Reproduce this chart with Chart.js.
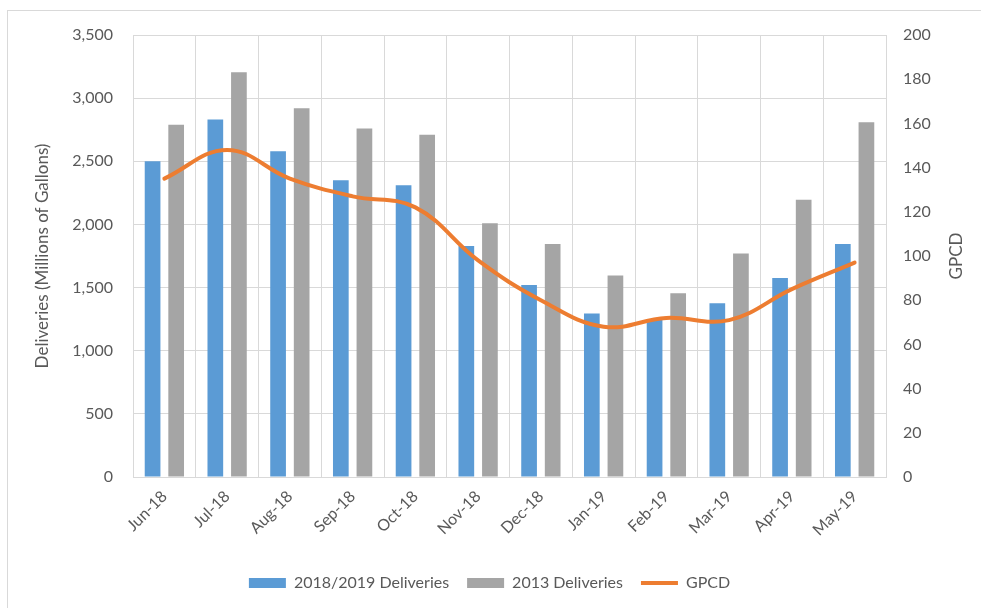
<!DOCTYPE html>
<html>
<head>
<meta charset="utf-8">
<script src="https://cdn.jsdelivr.net/npm/chart.js@4"></script>
<style>
  html, body { margin: 0; padding: 0; background: #fff; }
  #wrap { position: relative; width: 981px; height: 608px; }
  #frame { position: absolute; left: 7px; top: 10px; width: 990px; height: 620px;
           border-left: 1px solid #D9D9D9; border-top: 1px solid #D9D9D9; }
  canvas { position: absolute; left: 0; top: 0; }
</style>
</head>
<body>
<div id="wrap">
  <div id="frame"></div>
  <canvas id="chart" width="981" height="608"></canvas>
</div>
<script>
const months = ["Jun-18", "Jul-18", "Aug-18", "Sep-18", "Oct-18", "Nov-18",
                "Dec-18", "Jan-19", "Feb-19", "Mar-19", "Apr-19", "May-19"];

const deliveries1819 = [2500, 2830, 2580, 2350, 2310, 1830, 1520, 1295, 1250, 1375, 1575, 1845];
const deliveries2013 = [2790, 3205, 2920, 2760, 2710, 2010, 1845, 1595, 1455, 1770, 2195, 2810];
const gpcd = [135, 148, 135, 127, 122, 98, 80, 68, 72, 71, 85, 97];

const textColor = "#595959";
const gridColor = "#D9D9D9";
const fontFamily = "Lato, 'Open Sans', sans-serif";

Chart.defaults.font.family = fontFamily;
Chart.defaults.color = textColor;

// right axis title reads bottom-to-top like Excel
const rightTitle = {
    id: "rightTitle",
    afterDraw(chart) {
        const c = chart.ctx;
        const area = chart.chartArea;
        c.save();
        c.translate(957, (area.top + area.bottom) / 2);
        c.rotate(-Math.PI / 2);
        c.font = "17px " + fontFamily;
        c.fillStyle = textColor;
        c.textAlign = "center";
        c.textBaseline = "middle";
        c.fillText("GPCD", 0, 0);
        c.restore();
    }
};

const ctx = document.getElementById("chart");

new Chart(ctx, {
    type: "bar",
    data: {
        labels: months,
        datasets: [
            {
                type: "line",
                label: "GPCD",
                data: gpcd,
                yAxisID: "y1",
                borderColor: "#ED7D31",
                backgroundColor: "#ED7D31",
                borderWidth: 4,
                borderCapStyle: "round",
                tension: 0.4,
                pointRadius: 0,
                pointStyle: "line",
                order: 0
            },
            {
                label: "2018/2019 Deliveries",
                data: deliveries1819,
                backgroundColor: "#5B9BD5",
                borderWidth: 0,
                pointStyle: "rect",
                order: 1
            },
            {
                label: "2013 Deliveries",
                data: deliveries2013,
                backgroundColor: "#A5A5A5",
                borderWidth: 0,
                pointStyle: "rect",
                order: 1
            }
        ]
    },
    options: {
        responsive: false,
        animation: false,
        categoryPercentage: 0.752,
        barPercentage: 0.665,
        layout: { padding: { left: 8, right: 10, top: 35, bottom: 7 } },
        plugins: {
            legend: {
                position: "bottom",
                labels: {
                    sort: (a, b) => [1, 2, 0].indexOf(a.datasetIndex) - [1, 2, 0].indexOf(b.datasetIndex),
                    usePointStyle: true,
                    pointStyleWidth: 37,
                    boxHeight: 10,
                    padding: 18,
                    font: { size: 16 },
                    color: textColor
                }
            },
            tooltip: { enabled: false }
        },
        scales: {
            x: {
                grid: { color: gridColor, offset: true, drawTicks: false },
                border: { color: gridColor },
                ticks: {
                    minRotation: 45,
                    maxRotation: 45,
                    padding: 10,
                    font: { size: 16 },
                    color: textColor
                },
                afterFit: (scale) => { scale.height = 80; }
            },
            y: {
                position: "left",
                min: 0,
                max: 3500,
                grid: { color: gridColor, drawTicks: false },
                border: { color: gridColor },
                ticks: {
                    stepSize: 500,
                    padding: 20,
                    font: { size: 16 },
                    color: textColor,
                    callback: (v) => v.toLocaleString("en-US")
                },
                title: {
                    display: true,
                    text: "Deliveries (Millions of Gallons)",
                    font: { size: 17 },
                    color: textColor,
                    padding: { top: 24, bottom: 0 }
                },
                afterFit: (scale) => { scale.width = 125; }
            },
            y1: {
                position: "right",
                min: 0,
                max: 200,
                grid: { drawOnChartArea: false, drawTicks: false },
                border: { color: gridColor },
                ticks: {
                    stepSize: 20,
                    padding: 17,
                    font: { size: 16 },
                    color: textColor
                },
                afterFit: (scale) => { scale.width = 85; }
            }
        }
    },
    plugins: [rightTitle]
});
</script>
</body>
</html>
